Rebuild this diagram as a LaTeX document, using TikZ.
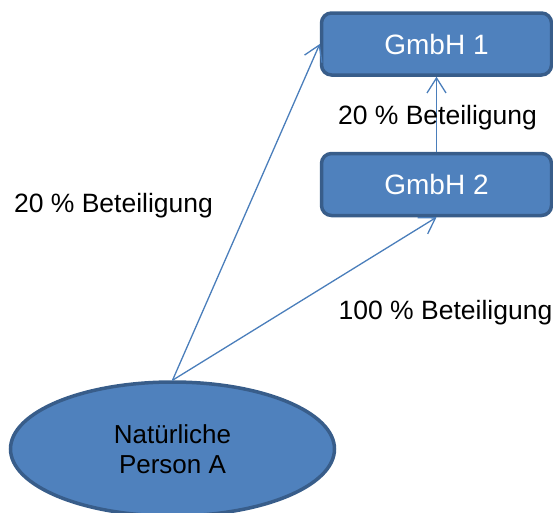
\documentclass[tikz,border=0pt]{standalone}
\usepackage{fontspec}
\setmainfont{Liberation Sans}
\usepackage{tikz}
\usepackage{xcolor}
\usetikzlibrary{arrows.meta,shapes.geometric}
\definecolor{boxfill}{HTML}{4F81BD}
\definecolor{boxline}{HTML}{385D8A}
\definecolor{arrline}{HTML}{4A7EBB}

\begin{document}
\begin{tikzpicture}%
  [x=1pt,y=-1pt,
   share/.style={draw=arrline,line width=1.3pt,
     -{Straight Barb[length=15pt,width=19pt,line width=1.3pt]}}]
  \tikzstyle{gmbh node}=[rectangle,rounded corners=10pt,fill=boxfill,draw=boxline,
    line width=3.5pt,minimum width=230pt,minimum height=62pt,text=white,
    font=\fontsize{28}{32}\selectfont]
  \tikzstyle{person node}=[ellipse,fill=boxfill,draw=boxline,line width=3.5pt,
    minimum width=324pt,minimum height=134pt,inner sep=0,align=center,
    font=\fontsize{26}{30}\selectfont]
  \tikzstyle{share label}=[font=\fontsize{26.5}{30}\selectfont]
  \useasboundingbox (0,0) rectangle (553,512);
  \node(g1)[gmbh node] at (436.5,44){GmbH 1};
  \node(g2)[gmbh node] at (436.5,184.5){GmbH 2};
  \node(p)[person node] at (172.5,449){Natürliche\\Person A};
  \draw[share] (p.north) -- (g1.west);
  \draw[share] (p.north) -- (g2.south);
  \draw[share] (g2.north) -- (g1.south);
  \node(l1)[share label] at (113.5,206){20 \% Beteiligung};
  \node(l2)[share label] at (437.5,118){20 \% Beteiligung};
  \node(l3)[share label] at (445.5,313){100 \% Beteiligung};
\end{tikzpicture}
\end{document}
